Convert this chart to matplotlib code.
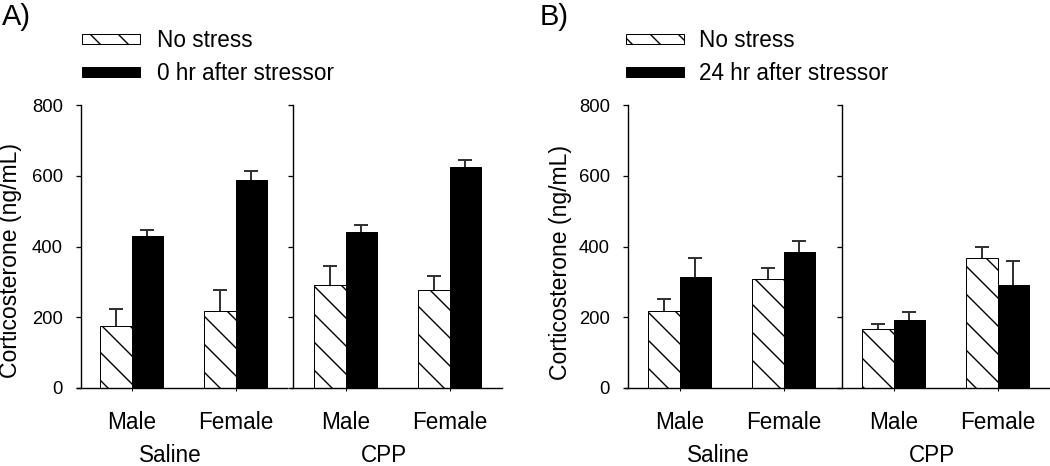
import matplotlib
matplotlib.use("Agg")
import matplotlib.pyplot as plt
import matplotlib.transforms as mtransforms
from matplotlib.patches import Patch
import numpy as np

# work in pixels: 1050x466 output, hatch spacing scales with dpi
DPI = 168
W, H = 1050, 466
P = 72 / DPI  # points per pixel

plt.rcParams['font.family'] = ['Liberation Sans', 'DejaVu Sans']
plt.rcParams['hatch.linewidth'] = 1.4 * P

sexes = ['Male', 'Female']
treatments = ['Saline', 'CPP']

# panel A: no stress vs 0 hr after stressor
a_saline_ctrl = [174, 217]
a_saline_ctrl_err = [49, 59]
a_saline_stress = [431, 589]
a_saline_stress_err = [15, 24]
a_cpp_ctrl = [292, 278]
a_cpp_ctrl_err = [52, 38]
a_cpp_stress = [441, 624]
a_cpp_stress_err = [19, 21]

# panel B: no stress vs 24 hr after stressor
b_saline_ctrl = [217, 309]
b_saline_ctrl_err = [35, 29]
b_saline_stress = [313, 384]
b_saline_stress_err = [55, 31]
b_cpp_ctrl = [167, 367]
b_cpp_ctrl_err = [14, 31]
b_cpp_stress = [191, 292]
b_cpp_stress_err = [25, 66]

legend_labels_a = ['No stress', '0 hr after stressor']
legend_labels_b = ['No stress', '24 hr after stressor']

fig = plt.figure(figsize=(W / DPI, H / DPI), dpi=DPI)

AX_TOP, AX_BOT = 105, 388
GROUP_PX = 104.0  # pixels between group centres
BW = 0.3
HATCH = '\\\\'


def make_axes(x0, x1, shift, show_ylabels):
    ax = fig.add_axes([x0 / W, (H - AX_BOT) / H, (x1 - x0) / W, (AX_BOT - AX_TOP) / H])
    left = -0.525
    ax.set_xlim(left, left + (x1 - x0) / GROUP_PX)
    ax.set_ylim(0, 800)
    ax.spines['top'].set_visible(False)
    ax.spines['right'].set_visible(False)
    ax.spines['left'].set_position(('outward', -shift * P))
    for s in ('left', 'bottom'):
        ax.spines[s].set_linewidth(1.4 * P)
    ax.set_yticks([0, 200, 400, 600, 800])
    ax.tick_params(axis='y', direction='out', length=5 * P, width=1.3 * P,
                   labelsize=18.5 * P, pad=13 * P, labelleft=show_ylabels)
    ax.tick_params(axis='x', direction='out', length=3 * P, width=1.0 * P,
                   labelsize=22.5 * P, pad=20 * P)
    ax.set_xticks(np.arange(len(sexes)))
    ax.set_xticklabels(sexes)
    return ax


def draw_pair(ax, ctrl, ctrl_err, stress, stress_err, group_name):
    x = np.arange(len(sexes))
    ax.bar(x - BW / 2, ctrl, BW, color='white', edgecolor='black',
           linewidth=1.0 * P, hatch=HATCH, zorder=2)
    ax.bar(x + BW / 2, stress, BW, color='black', edgecolor='black',
           linewidth=1.0 * P, zorder=2)
    for xs, v, e in ((x - BW / 2, ctrl, ctrl_err), (x + BW / 2, stress, stress_err)):
        eb = ax.errorbar(xs, v, yerr=[np.zeros(len(e)), e], fmt='none', ecolor='#333333',
                         elinewidth=2 * P, capsize=7 * P, capthick=2 * P, zorder=1)
        eb[1][0].set_visible(False)  # only the upper cap
    tr = mtransforms.blended_transform_factory(ax.transData, fig.transFigure)
    ax.text(0.5 - 13.5 / GROUP_PX, 1 - 462 / H, group_name, transform=tr,
            ha='center', va='baseline', fontsize=22.5 * P)


ax1 = make_axes(77, 287, 4, True)
ax2 = make_axes(291, 502, 2, False)
ax3 = make_axes(625, 838, 3, True)
ax4 = make_axes(839, 1050, 3, False)

draw_pair(ax1, a_saline_ctrl, a_saline_ctrl_err, a_saline_stress, a_saline_stress_err, treatments[0])
draw_pair(ax2, a_cpp_ctrl, a_cpp_ctrl_err, a_cpp_stress, a_cpp_stress_err, treatments[1])
draw_pair(ax3, b_saline_ctrl, b_saline_ctrl_err, b_saline_stress, b_saline_stress_err, treatments[0])
draw_pair(ax4, b_cpp_ctrl, b_cpp_ctrl_err, b_cpp_stress, b_cpp_stress_err, treatments[1])

# y labels and panel letters
fig.text(11 / W, 1 - 261 / H, 'Corticosterone (ng/mL)', rotation=90,
         ha='center', va='center', fontsize=23 * P)
fig.text(560 / W, 1 - 262 / H, 'Corticosterone (ng/mL)', rotation=90,
         ha='center', va='center', fontsize=23 * P)
fig.text(2 / W, 1 - 25 / H, 'A)', ha='left', va='baseline', fontsize=29 * P)
fig.text(540 / W, 1 - 25 / H, 'B)', ha='left', va='baseline', fontsize=29 * P)


def add_legend(labels, x_px, pad):
    handles = [Patch(facecolor='white', edgecolor='black', hatch=HATCH, linewidth=1.0 * P),
               Patch(facecolor='black', edgecolor='black', linewidth=1.0 * P)]
    fig.legend(handles, labels, loc='upper left',
               bbox_to_anchor=(x_px / W, 1 - 29 / H), frameon=False,
               fontsize=22.5 * P, handlelength=58 / 22.5, handleheight=6 / 22.5,
               handletextpad=pad, labelspacing=0.45, borderpad=0, borderaxespad=0)


add_legend(legend_labels_a, 82, 0.74)
add_legend(legend_labels_b, 626, 0.65)

fig.savefig('out.png', dpi=DPI)
